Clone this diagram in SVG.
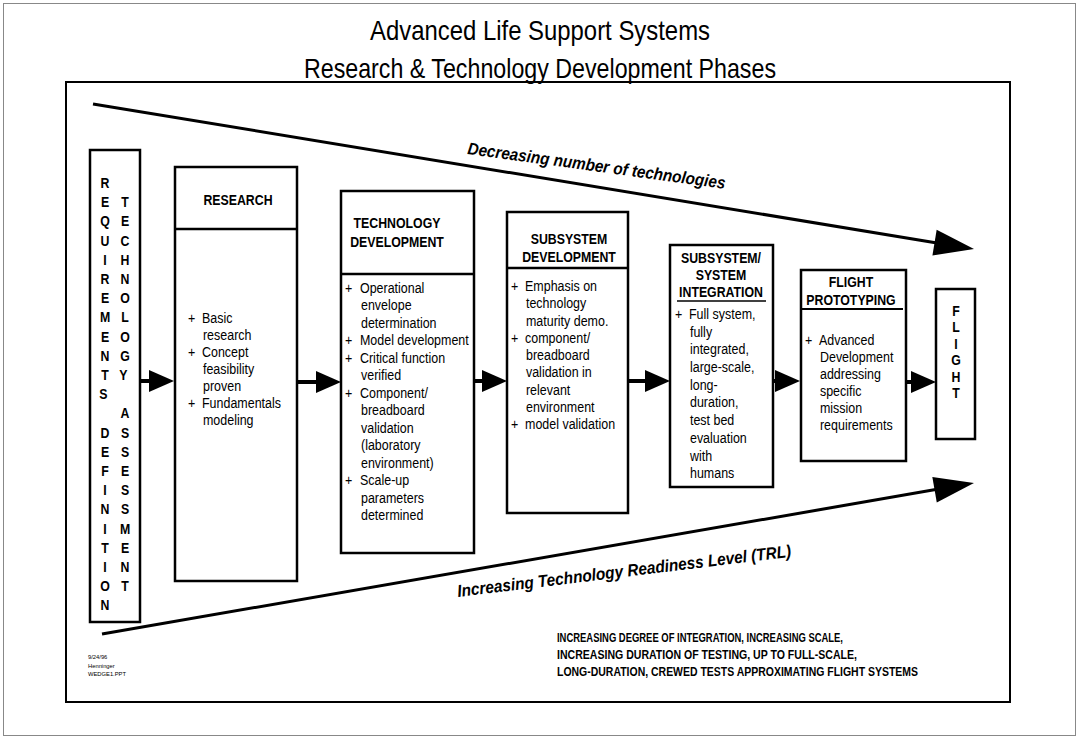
<svg xmlns="http://www.w3.org/2000/svg" width="1080" height="740" viewBox="0 0 1080 740">
<style>
.title{font-family:'Liberation Sans',Arial,sans-serif;font-size:28px;fill:#000;text-anchor:middle}
.hd{font-family:'Liberation Sans',Arial,sans-serif;font-size:14px;font-weight:bold;fill:#000;text-anchor:middle}
.bt{font-family:'Liberation Sans',Arial,sans-serif;font-size:14.5px;fill:#000}
.vl{font-family:'Liberation Sans',Arial,sans-serif;font-size:14px;font-weight:bold;fill:#000;text-anchor:middle}
.lbl{font-family:'Liberation Sans',Arial,sans-serif;font-size:17px;font-weight:bold;font-style:italic;fill:#000}
.note{font-family:'Liberation Sans',Arial,sans-serif;font-size:12px;font-weight:bold;fill:#000}
.tiny{font-family:'Liberation Sans',Arial,sans-serif;font-size:5.8px;fill:#000}
.box{fill:#fff;stroke:#000;stroke-width:2.5}
.div{stroke:#000;stroke-width:2.5}
.shaft{stroke:#000;stroke-width:4;fill:none}
.wedge{stroke:#000;stroke-width:3;fill:none}
</style>
<defs>
<marker id="sm" markerUnits="userSpaceOnUse" viewBox="-26 -12 28 24" markerWidth="28" markerHeight="24" refX="-22" refY="0" orient="auto" overflow="visible"><path d="M0,0 L-25,-11 L-25,11 Z" fill="#000"/></marker>
<marker id="big" markerUnits="userSpaceOnUse" viewBox="-42 -14 44 28" markerWidth="44" markerHeight="28" refX="-36" refY="0" orient="auto" overflow="visible"><path d="M0,0 L-40,-13 L-40,13 Z" fill="#000"/></marker>
</defs>
<rect x="0" y="0" width="1080" height="740" fill="#fff"/>
<rect x="3.5" y="3.5" width="1072" height="732" fill="none" stroke="#888" stroke-width="1"/>
<rect x="66" y="82" width="944" height="620" fill="none" stroke="#000" stroke-width="2"/>
<g id="title">
<text class="title" x="540" y="40" textLength="340" lengthAdjust="spacingAndGlyphs">Advanced Life Support Systems</text>
<text class="title" x="540" y="78" textLength="472" lengthAdjust="spacingAndGlyphs">Research &amp; Technology Development Phases</text>
</g>
<g id="connectors">
<line class="wedge" x1="93" y1="104" x2="938.5" y2="243.2" marker-end="url(#big)"/>
<line class="wedge" x1="102" y1="634" x2="938.5" y2="489.1" marker-end="url(#big)"/>
<line class="shaft" x1="140" y1="381" x2="152" y2="381" marker-end="url(#sm)"/>
<line class="shaft" x1="297" y1="382" x2="319" y2="382" marker-end="url(#sm)"/>
<line class="shaft" x1="474" y1="381" x2="485" y2="381" marker-end="url(#sm)"/>
<line class="shaft" x1="628" y1="381" x2="648" y2="381" marker-end="url(#sm)"/>
<line class="shaft" x1="773" y1="381" x2="778" y2="381" marker-end="url(#sm)"/>
<line class="shaft" x1="906" y1="382" x2="914" y2="382" marker-end="url(#sm)"/>
</g>
<g id="wedge-labels">
<text class="lbl" x="467" y="154" transform="rotate(7.7 467 154)" textLength="260" lengthAdjust="spacingAndGlyphs">Decreasing number of technologies</text>
<text class="lbl" x="458" y="597" transform="rotate(-6.9 458 597)" textLength="336" lengthAdjust="spacingAndGlyphs">Increasing Technology Readiness Level (TRL)</text>
</g>
<g id="node-requirements">
<rect class="box" x="90" y="150" width="50" height="472"/>
<g transform="translate(105,0) scale(0.88,1)">
<text class="vl">
<tspan x="0" y="188">R</tspan><tspan x="0" y="207.2">E</tspan><tspan x="0" y="226.4">Q</tspan><tspan x="0" y="245.6">U</tspan><tspan x="0" y="264.8">I</tspan><tspan x="0" y="284">R</tspan><tspan x="0" y="303.2">E</tspan><tspan x="0" y="322.4">M</tspan><tspan x="0" y="341.6">E</tspan><tspan x="0" y="360.8">N</tspan><tspan x="0" y="380">T</tspan><tspan x="0" y="399.2">S</tspan>
<tspan x="0" y="437.6">D</tspan><tspan x="0" y="456.8">E</tspan><tspan x="0" y="476">F</tspan><tspan x="0" y="495.2">I</tspan><tspan x="0" y="514.4">N</tspan><tspan x="0" y="533.6">I</tspan><tspan x="0" y="552.8">T</tspan><tspan x="0" y="572">I</tspan><tspan x="0" y="591.2">O</tspan><tspan x="0" y="610.4">N</tspan>
</text>
</g>
<g transform="translate(125,0) scale(0.88,1)">
<text class="vl">
<tspan x="0" y="207.2">T</tspan><tspan x="0" y="226.4">E</tspan><tspan x="0" y="245.6">C</tspan><tspan x="0" y="264.8">H</tspan><tspan x="0" y="284">N</tspan><tspan x="0" y="303.2">O</tspan><tspan x="0" y="322.4">L</tspan><tspan x="0" y="341.6">O</tspan><tspan x="0" y="360.8">G</tspan><tspan x="0" y="380">Y</tspan>
<tspan x="0" y="418.4">A</tspan><tspan x="0" y="437.6">S</tspan><tspan x="0" y="456.8">S</tspan><tspan x="0" y="476">E</tspan><tspan x="0" y="495.2">S</tspan><tspan x="0" y="514.4">S</tspan><tspan x="0" y="533.6">M</tspan><tspan x="0" y="552.8">E</tspan><tspan x="0" y="572">N</tspan><tspan x="0" y="591.2">T</tspan>
</text>
</g>
</g>
<g id="node-research">
<rect class="box" x="175" y="167" width="122" height="414"/>
<line class="div" x1="175" y1="229" x2="297" y2="229"/>
<g transform="translate(238,0) scale(0.88,1)"><text class="hd" x="0" y="205">RESEARCH</text></g>
<g transform="translate(188,0) scale(0.86,1)">
<text class="bt">
<tspan x="0" y="323">+</tspan><tspan x="16.3" y="323">Basic</tspan>
<tspan x="17.4" y="340">research</tspan>
<tspan x="0" y="357">+</tspan><tspan x="16.3" y="357">Concept</tspan>
<tspan x="17.4" y="374">feasibility</tspan>
<tspan x="17.4" y="391">proven</tspan>
<tspan x="0" y="408">+</tspan><tspan x="16.3" y="408">Fundamentals</tspan>
<tspan x="17.4" y="425">modeling</tspan>
</text>
</g>
</g>
<g id="node-techdev">
<rect class="box" x="341" y="191" width="133" height="362"/>
<line class="div" x1="341" y1="274" x2="474" y2="274"/>
<g transform="translate(397,0) scale(0.88,1)"><text class="hd"><tspan x="0" y="228">TECHNOLOGY</tspan><tspan x="0" y="247">DEVELOPMENT</tspan></text></g>
<g transform="translate(345,0) scale(0.86,1)">
<text class="bt">
<tspan x="0" y="293">+</tspan><tspan x="17.4" y="293">Operational</tspan>
<tspan x="18.6" y="310.5">envelope</tspan>
<tspan x="18.6" y="328">determination</tspan>
<tspan x="0" y="345.5">+</tspan><tspan x="17.4" y="345.5">Model development</tspan>
<tspan x="0" y="363">+</tspan><tspan x="17.4" y="363">Critical function</tspan>
<tspan x="18.6" y="380.5">verified</tspan>
<tspan x="0" y="398">+</tspan><tspan x="17.4" y="398">Component/</tspan>
<tspan x="18.6" y="415.5">breadboard</tspan>
<tspan x="18.6" y="433">validation</tspan>
<tspan x="18.6" y="450.5">(laboratory</tspan>
<tspan x="18.6" y="468">environment)</tspan>
<tspan x="0" y="485.5">+</tspan><tspan x="17.4" y="485.5">Scale-up</tspan>
<tspan x="18.6" y="503">parameters</tspan>
<tspan x="18.6" y="520.5">determined</tspan>
</text>
</g>
</g>
<g id="node-subsystem-dev">
<rect class="box" x="507" y="212" width="121" height="301"/>
<line class="div" x1="507" y1="268" x2="628" y2="268"/>
<g transform="translate(569,0) scale(0.88,1)"><text class="hd"><tspan x="0" y="244">SUBSYSTEM</tspan><tspan x="0" y="262">DEVELOPMENT</tspan></text></g>
<g transform="translate(511,0) scale(0.86,1)">
<text class="bt">
<tspan x="0" y="291">+</tspan><tspan x="16.3" y="291">Emphasis on</tspan>
<tspan x="17.4" y="308.3">technology</tspan>
<tspan x="17.4" y="325.6">maturity demo.</tspan>
<tspan x="0" y="342.9">+</tspan><tspan x="16.3" y="342.9">component/</tspan>
<tspan x="17.4" y="360.2">breadboard</tspan>
<tspan x="17.4" y="377.5">validation in</tspan>
<tspan x="17.4" y="394.8">relevant</tspan>
<tspan x="17.4" y="412.1">environment</tspan>
<tspan x="0" y="429.4">+</tspan><tspan x="16.3" y="429.4">model validation</tspan>
</text>
</g>
</g>
<g id="node-integration">
<rect class="box" x="670" y="245" width="103" height="242"/>
<g transform="translate(721,0) scale(0.88,1)"><text class="hd"><tspan x="0" y="263">SUBSYSTEM/</tspan><tspan x="0" y="280">SYSTEM</tspan><tspan x="0" y="297">INTEGRATION</tspan></text></g>
<line x1="677" y1="301" x2="766" y2="301" stroke="#000" stroke-width="1.5"/>
<g transform="translate(675,0) scale(0.86,1)">
<text class="bt">
<tspan x="0" y="319">+</tspan><tspan x="16.3" y="319">Full system,</tspan>
<tspan x="17.4" y="336.7">fully</tspan>
<tspan x="17.4" y="354.4">integrated,</tspan>
<tspan x="17.4" y="372.1">large-scale,</tspan>
<tspan x="17.4" y="389.8">long-</tspan>
<tspan x="17.4" y="407.5">duration,</tspan>
<tspan x="17.4" y="425.2">test bed</tspan>
<tspan x="17.4" y="442.9">evaluation</tspan>
<tspan x="17.4" y="460.6">with</tspan>
<tspan x="17.4" y="478.3">humans</tspan>
</text>
</g>
</g>
<g id="node-prototyping">
<rect class="box" x="801" y="270" width="105" height="191"/>
<g transform="translate(851,0) scale(0.88,1)"><text class="hd"><tspan x="0" y="287">FLIGHT</tspan><tspan x="0" y="305">PROTOTYPING</tspan></text></g>
<line x1="802" y1="309" x2="903" y2="309" stroke="#000" stroke-width="2"/>
<g transform="translate(805,0) scale(0.86,1)">
<text class="bt">
<tspan x="0" y="345">+</tspan><tspan x="16.3" y="345">Advanced</tspan>
<tspan x="17.4" y="362">Development</tspan>
<tspan x="17.4" y="379">addressing</tspan>
<tspan x="17.4" y="396">specific</tspan>
<tspan x="17.4" y="413">mission</tspan>
<tspan x="17.4" y="430">requirements</tspan>
</text>
</g>
</g>
<g id="node-flight">
<rect class="box" x="936" y="289" width="39" height="150"/>
<g transform="translate(956,0) scale(0.88,1)">
<text class="vl"><tspan x="0" y="316">F</tspan><tspan x="0" y="332.5">L</tspan><tspan x="0" y="349">I</tspan><tspan x="0" y="365.5">G</tspan><tspan x="0" y="382">H</tspan><tspan x="0" y="398.5">T</tspan></text>
</g>
</g>
<g id="footnote">
<text class="tiny"><tspan x="88" y="659">9/24/96</tspan><tspan x="88" y="667.5">Henninger</tspan><tspan x="88" y="676">WEDGE1.PPT</tspan></text>
</g>
<g id="integration-note">
<text class="note" x="557" y="642" textLength="286" lengthAdjust="spacingAndGlyphs">INCREASING DEGREE OF INTEGRATION, INCREASING SCALE,</text>
<text class="note" x="557" y="659" textLength="300" lengthAdjust="spacingAndGlyphs">INCREASING DURATION OF TESTING, UP TO FULL-SCALE,</text>
<text class="note" x="557" y="676" textLength="361" lengthAdjust="spacingAndGlyphs">LONG-DURATION, CREWED TESTS APPROXIMATING FLIGHT SYSTEMS</text>
</g>
</svg>
